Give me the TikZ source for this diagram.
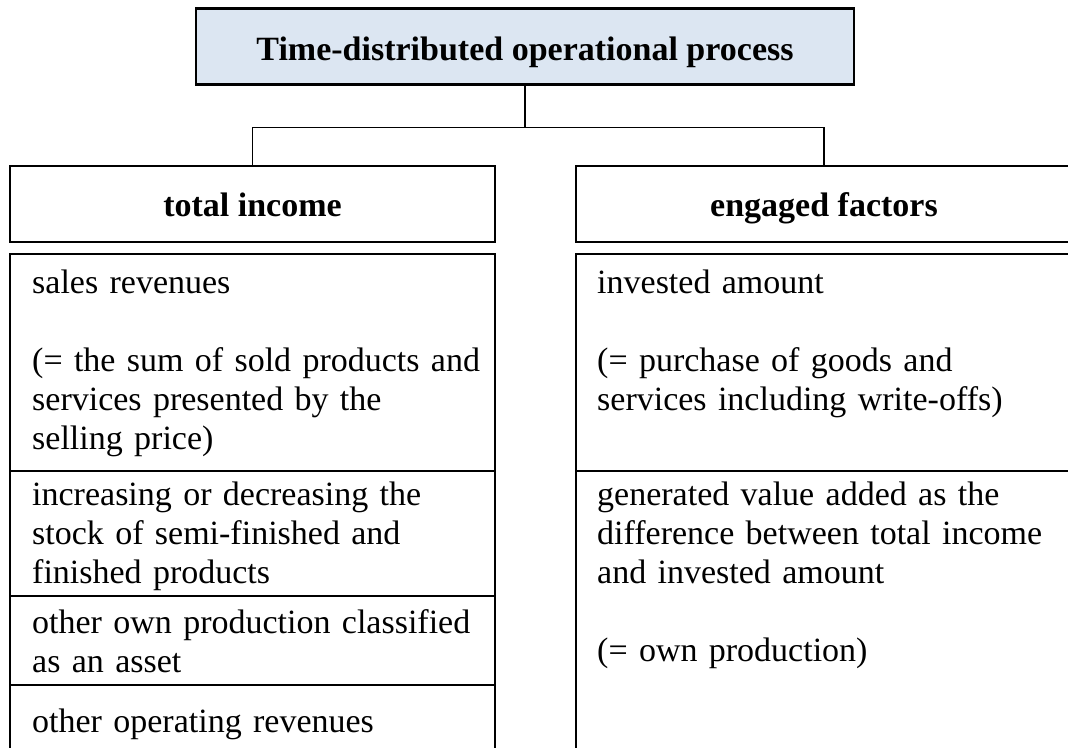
\documentclass[tikz,border=0pt]{standalone}
\usepackage{fontspec}
\setmainfont{Liberation Serif}
\definecolor{headblue}{HTML}{DCE6F2}
\begin{document}
\begin{tikzpicture}[x=1pt,y=-1pt,
  every node/.style={font=\fontsize{34}{39}\selectfont},
  head/.style={draw,line width=2.2pt,minimum height=76pt,inner sep=0pt,
    text height=26pt,text depth=2pt,font=\fontsize{34}{39}\selectfont\bfseries},
  cell/.style={anchor=base west,inner sep=0pt,text width=520pt,align=left},
  frame/.style={line width=2.2pt},
  rule/.style={line width=1.6pt},
  link/.style={line width=1.2pt}]
\useasboundingbox (0,0) rectangle (1068,747);
\clip (0,0) rectangle (1068,747);
\node[head,fill=headblue,minimum width=658pt,text height=29pt] (proc) at (525,46.5) {Time-distributed operational process};
\node[head,minimum width=485pt] (income) at (252.5,204) {total income};
\node[head,minimum width=496pt] (factors) at (824,204) {engaged factors};
\draw[link] (proc.south) -- ++(0,42) coordinate (fork);
\draw[link] (income.north) |- (fork) -| (factors.north);
\draw[frame] (10,254) rectangle (495,780);
\draw[rule] (10,471) -- (495,471);
\draw[rule] (10,596) -- (495,596);
\draw[rule] (10,685) -- (495,685);
\draw[frame] (576,254) rectangle (1080,780);
\draw[rule] (576,471) -- (1080,471);
\node[cell] (sales) at (32,293) {sales revenues\\[39pt](= the sum of sold products and\\services presented by the\\selling price)};
\node[cell] (stock) at (32,505) {increasing or decreasing the\\stock of semi-finished and\\finished products};
\node[cell] (asset) at (32,633) {other own production classified\\as an asset};
\node[cell] (other) at (32,732) {other operating revenues};
\node[cell] (invested) at (597,293) {invested amount\\[39pt](= purchase of goods and\\services including write-offs)};
\node[cell] (added) at (597,505) {generated value added as the\\difference between total income\\and invested amount\\[39pt](= own production)};
\end{tikzpicture}
\end{document}
